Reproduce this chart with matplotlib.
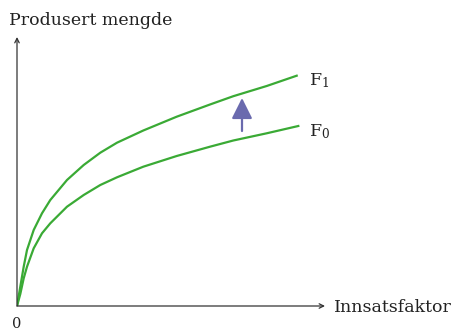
import matplotlib
matplotlib.use("Agg")
import matplotlib.pyplot as plt

# Data (units: arbitrary input / output)
f1_x = [0, 3.3, 6.7, 10, 16.7, 25, 33.3, 50, 66.7, 83.3, 100, 126.3, 159.7, 193, 216.3, 249.7, 279.7]
f1_y = [0, 19.3, 39.3, 56, 76, 92.7, 106, 126, 141, 153.3, 163.3, 175.5, 189.3, 201.5, 209.8, 220, 230.3]
f0_x = [0, 3.3, 6.7, 10, 16.7, 25, 33.3, 50, 66.7, 83.3, 100, 126.3, 159.7, 193, 216.3, 249.7, 281.3]
f0_y = [0, 12, 27.7, 39.3, 57.7, 72.7, 82.7, 99.3, 111, 121, 128.7, 139.3, 150, 159.3, 165.5, 172.7, 180]
labels = ["F$_1$", "F$_0$"]
x_label = "Innsatsfaktor"
y_label = "Produsert mengde"

font = "DejaVu Serif"
plt.rcParams["mathtext.fontset"] = "custom"
plt.rcParams["mathtext.rm"] = font
plt.rcParams["mathtext.it"] = font

W, H = 456, 335
fig = plt.figure(figsize=(W / 100, H / 100), dpi=100)
ox, oy = 17, 306
ax = fig.add_axes([ox / W, (H - oy) / H, (W - ox) / W, oy / H])
ax.set_xlim(0, W - ox)
ax.set_ylim(0, oy)
ax.axis("off")

green = "#3aaa35"
axcol = "#333333"
txtcol = "#222222"

ax.plot(f1_x, f1_y, color=green, lw=1.6, solid_joinstyle="round")
ax.plot(f0_x, f0_y, color=green, lw=1.6, solid_joinstyle="round")

# axes with arrows
ax.annotate("", xy=(325 - ox, 0), xytext=(0, 0),
            arrowprops=dict(arrowstyle="->", color=axcol, lw=0.9,
                            shrinkA=0, shrinkB=0, mutation_scale=8))
ax.annotate("", xy=(0, oy - 37), xytext=(0, 0),
            arrowprops=dict(arrowstyle="->", color=axcol, lw=0.9,
                            shrinkA=0, shrinkB=0, mutation_scale=8))

# shift arrow
ax.annotate("", xy=(242 - ox, oy - 98), xytext=(242 - ox, oy - 131),
            arrowprops=dict(arrowstyle="-|>,head_length=0.9,head_width=0.45",
                            color="#6a6aae", lw=1.6, shrinkA=0, shrinkB=0,
                            mutation_scale=14))

ax.text(309 - ox, oy - 85, labels[0], fontsize=12.5, family=font,
        color=txtcol, ha="left", va="baseline")
ax.text(309 - ox, oy - 136, labels[1], fontsize=12.5, family=font,
        color=txtcol, ha="left", va="baseline")

fig.text(334 / W, 1 - 312 / H, x_label, fontsize=12.5, family=font,
         color=txtcol, ha="left", va="baseline")
fig.text(9 / W, 1 - 25 / H, y_label, fontsize=12.5, family=font,
         color=txtcol, ha="left", va="baseline")
fig.text(17 / W, 1 - 328 / H, "0", fontsize=10.5, family=font,
         color=txtcol, ha="center", va="baseline")

fig.savefig("out.png", dpi=100)
